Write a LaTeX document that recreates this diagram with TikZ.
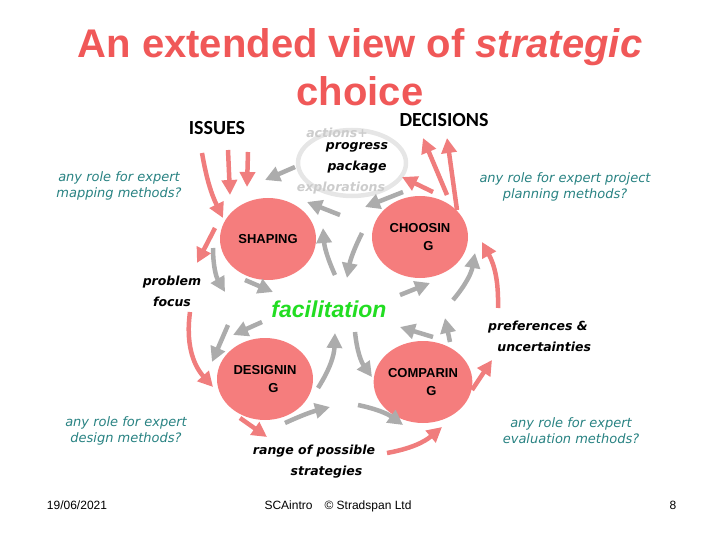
\documentclass[tikz,border=0pt]{standalone}
\usepackage{fontspec}
\setmainfont{Liberation Sans}
\newfontfamily\headfont{Carlito}
\newfontfamily\notefont{DejaVu Sans}
\usetikzlibrary{arrows.meta,shapes.geometric}
\definecolor{titlered}{RGB}{240,88,88}
\definecolor{stagered}{RGB}{245,125,125}
\definecolor{flowred}{RGB}{240,125,125}
\definecolor{flowgrey}{RGB}{172,172,172}
\definecolor{ringgrey}{RGB}{230,230,230}
\definecolor{noteteal}{RGB}{40,130,130}
\definecolor{facgreen}{RGB}{34,221,34}
\tikzset{
  stage/.style={ellipse,fill=stagered,minimum width=96pt,minimum height=82pt,inner sep=0pt,
    align=center,font=\fontsize{13}{18}\selectfont\bfseries},
  note/.style={align=center,text=noteteal,font=\notefont\fontsize{13}{16}\selectfont\itshape},
  product/.style={align=center,font=\notefont\fontsize{12.5}{21}\selectfont\bfseries\itshape},
  head/.style={font=\headfont\fontsize{20}{22}\selectfont\bfseries},
  foot/.style={font=\fontsize{12}{14}\selectfont},
  flow/.style={line width=4.5pt,-{Triangle[length=15pt,width=15pt]}},
  redflow/.style={flow,draw=flowred},
  greyflow/.style={flow,draw=flowgrey}
}
\begin{document}
\begin{tikzpicture}[x=1pt,y=-1pt]
 \useasboundingbox (0,0) rectangle (720,540);
 % title
 \node[anchor=base,text=titlered,font=\fontsize{40}{44}\selectfont\bfseries] (title) at (360,58)
   {An extended view of \textit{strategic}};
 \node[anchor=base,text=titlered,font=\fontsize{40}{44}\selectfont\bfseries] (title2) at (360,106) {choice};
 \node[head,anchor=base] (issues) at (217,135) {ISSUES};
 \node[head,anchor=base] (decisions) at (444,127) {DECISIONS};
 % progress package ring
 \draw[ringgrey,line width=4.5pt] (352,163) ellipse[x radius=54,y radius=33];
 \node[product,text=ringgrey!75!gray,anchor=base] (actions) at (337,138) {actions+};
 \node[product,anchor=center] (package) at (357,158) {progress\\package};
 \node[product,text=ringgrey!75!gray,anchor=base] (explore) at (341,192) {explorations};
 % the four modes
 \node[stage] (shp) at (268,239) {SHAPING};
 \node[stage] (cho) at (420,237) {CHOOSIN\\\hspace*{1.3em}G};
 \node[stage] (des) at (265,379) {DESIGNIN\\\hspace*{1.3em}G};
 \node[stage] (com) at (423,382) {COMPARIN\\\hspace*{1.3em}G};
 \node[text=facgreen,font=\fontsize{23}{25}\selectfont\bfseries\itshape,anchor=base] (fac) at (329,317) {facilitation};
 % products
 \node[product] (focus) at (172,291) {problem\\focus};
 \node[product] (prefs) at (538,336) {preferences \&\\\hspace*{1em}uncertainties};
 \node[product] (range) at (314,462) {range of possible\\\hspace*{2em}strategies};
 % questions
 \node[note] (qmap) at (119,186) {any role for expert\\mapping methods?};
 \node[note] (qplan) at (565,187) {any role for expert project\\planning methods?};
 \node[note] (qdes) at (126,431) {any role for expert\\design methods?};
 \node[note] (qeval) at (571,431) {any role for expert\\evaluation methods?};
 % footer
 \node[foot,anchor=base] (date) at (77,509) {19/06/2021};
 \node[foot,anchor=base] (credit) at (338,509) {SCAintro\quad\textcopyright{} Stradspan Ltd};
 \node[foot,anchor=base] (page) at (673,509) {8};
 % arrow ends
 \foreach \n/\xy in {r1a/{202,153},r1b/{223,218},r2a/{228,150},r2b/{230,195},r3a/{248,152},r3b/{247,187},
     r4a/{215,228},r4b/{197,263},r5a/{190,312},r5b/{213,387},r6a/{240,418},r6b/{267,437},
     r7a/{387,453},r7b/{442,427},r8a/{472,390},r8b/{492,360},r9a/{498,308},r9b/{482,242},
     r10a/{433,192},r10b/{402,177},r11a/{447,195},r11b/{423,138},r12a/{457,210},r12b/{447,138}}
   \coordinate (\n) at (\xy);
 \foreach \n/\xy in {g1a/{295,167},g1b/{265,180},g2a/{340,215},g2b/{307,202},g3a/{403,192},g3b/{365,207},
     g4a/{335,275},g4b/{323,228},g5a/{362,233},g5b/{347,278},g6a/{213,248},g6b/{225,292},
     g7a/{245,280},g7b/{273,292},g8a/{400,295},g8b/{430,283},g9a/{453,300},g9b/{475,253},
     g10a/{262,322},g10b/{233,335},g11a/{228,325},g11b/{212,362},g12a/{433,337},g12b/{400,327},
     g13a/{450,342},g13b/{445,318},g14a/{355,332},g14b/{372,377},g15a/{318,388},g15b/{335,333},
     g16a/{285,423},g16b/{330,407},g17a/{358,405},g17b/{403,425}}
   \coordinate (\n) at (\xy);
 % flows (bend: + left, - right)
 \foreach \a/\b/\bnd in {r1a/r1b/-8,r2a/r2b/0,r3a/r3b/0,r4a/r4b/0,r5a/r5b/-25,r6a/r6b/0,
     r7a/r7b/-15,r8a/r8b/0,r9a/r9b/-15,r10a/r10b/0,r11a/r11b/0,r12a/r12b/0}
   \draw[redflow] (\a) to[bend left=\bnd] (\b);
 \foreach \a/\b/\bnd in {g1a/g1b/0,g2a/g2b/0,g3a/g3b/0,g4a/g4b/10,g5a/g5b/-8,g6a/g6b/-15,
     g7a/g7b/0,g8a/g8b/0,g9a/g9b/-15,g10a/g10b/0,g11a/g11b/0,g12a/g12b/0,g13a/g13b/0,
     g14a/g14b/-15,g15a/g15b/-15,g16a/g16b/5,g17a/g17b/12}
   \draw[greyflow] (\a) to[bend left=\bnd] (\b);
\end{tikzpicture}
\end{document}
